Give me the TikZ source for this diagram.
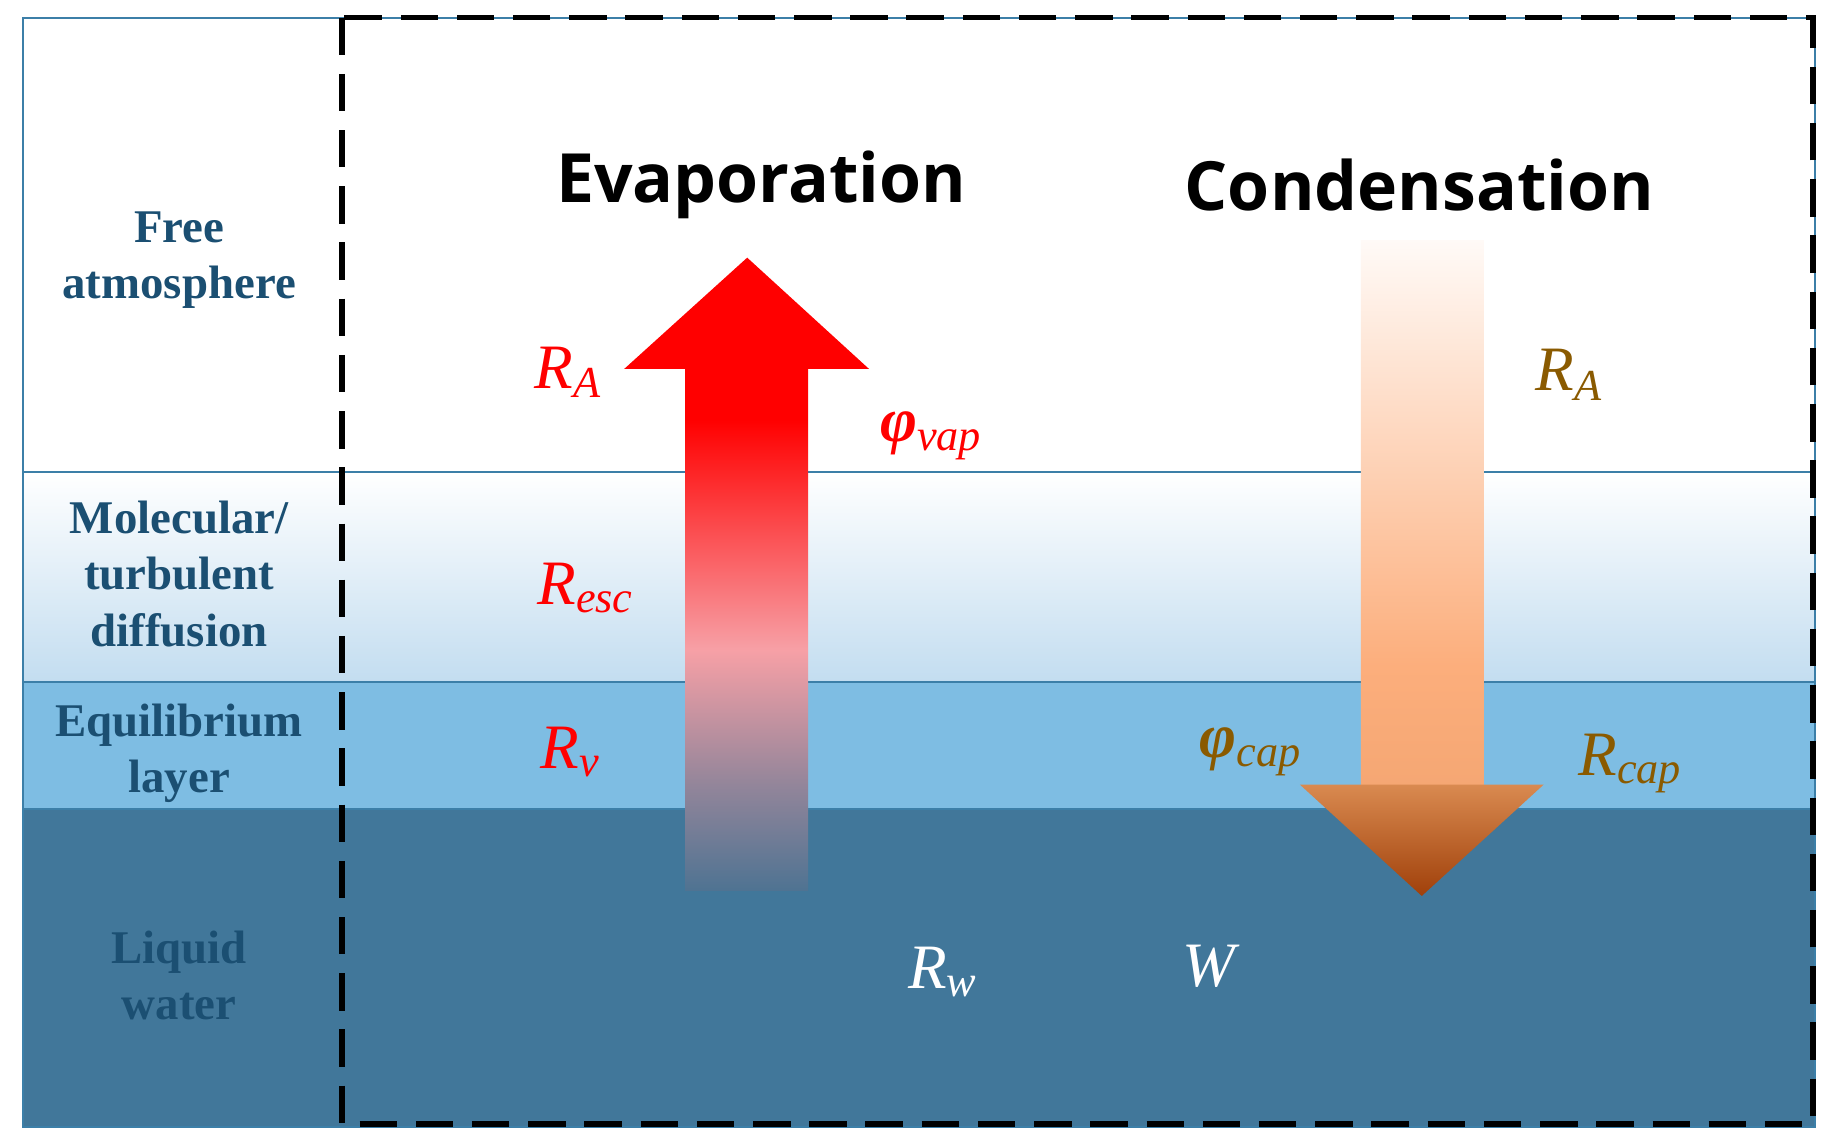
\documentclass[tikz,border=0pt]{standalone}
\usepackage{fontspec}
\setmainfont{Liberation Serif}
\newfontfamily\titlefont{Open Sans}
\definecolor{lblue}{HTML}{1B4F72}
\definecolor{lay2}{HTML}{C3DDF0}
\definecolor{lay3}{HTML}{7EBDE3}
\definecolor{lay4}{HTML}{41779A}
\definecolor{brd}{HTML}{3C7FA8}
\definecolor{brn}{HTML}{8A5A00}
\definecolor{evb}{HTML}{4F7392}
\definecolor{evm}{HTML}{F7A0A6}
\definecolor{cdt}{HTML}{FFFAF7}
\definecolor{cdm}{HTML}{FCAE7C}
\definecolor{cdl}{HTML}{D98A50}
\definecolor{cdb}{HTML}{A0400A}
\pgfdeclareverticalshading{evap}{100bp}{color(0bp)=(evb); color(25bp)=(evb); color(35bp)=(evb!60!evm); color(48bp)=(evm); color(70bp)=(red); color(100bp)=(red)}
\pgfdeclareverticalshading{cond}{100bp}{color(0bp)=(cdm!80!cdl); color(25bp)=(cdm!80!cdl); color(36bp)=(cdm); color(75bp)=(cdt); color(100bp)=(cdt)}
\pgfdeclareverticalshading{condh}{100bp}{color(0bp)=(cdb); color(25bp)=(cdb); color(75bp)=(cdl); color(100bp)=(cdl)}
\begin{document}
\begin{tikzpicture}[x=0.5pt,y=-0.5pt,
  side/.style={font=\fontsize{20}{24}\selectfont\bfseries, align=center, text=lblue},
  ttl/.style={font=\titlefont\bfseries\fontsize{29}{34}\selectfont},
  sym/.style={font=\fontsize{27}{30}\selectfont\itshape}]
\useasboundingbox (0,0) rectangle (1560,975);
\fill[white] (0,0) rectangle (1560,975);
\shade[top color=white,bottom color=lay2] (20,403) rectangle (1550,582);
\fill[lay3] (20,582) rectangle (1550,691);
\fill[lay4] (20,691) rectangle (1550,962);
\draw[brd,line width=0.8pt] (20,15) rectangle (1550,962);
\draw[brd,line width=0.8pt] (20,403) -- (1550,403) (20,582) -- (1550,582) (20,691) -- (1550,691);
% up arrow
\shade[shading=evap] (585,760) rectangle (690,314);
\fill[red] (533,315) -- (638,220) -- (742,315) -- cycle;
% down arrow
\shade[shading=cond] (1162,205) rectangle (1267,671);
\shade[shading=condh] (1110,670) -- (1318,670) -- (1214,765) -- cycle;
\draw[black,line width=2.5pt,dash pattern=on 16pt off 8pt] (292,15) rectangle (1548,960);
\node[side] (l1) at (153,222) {Free\\atmosphere};
\node[side] (l2) at (153,490) {Molecular/\\turbulent\\diffusion};
\node[side] (l3) at (153,643) {Equilibrium\\layer};
\node[side] (l4) at (153,833) {Liquid\\water};
\node[ttl] (ev) at (650,158) {Evaporation};
\node[ttl] (co) at (1212,158) {Condensation};
\node[sym,text=red] (ra) at (485,318) {R\textsubscript{A}};
\node[sym,text=red] (pv) at (795,372) {\textbf{φ}\textsubscript{vap}};
\node[sym,text=red] (re) at (500,502) {R\textsubscript{esc}};
\node[sym,text=red] (rv) at (487,642) {R\textsubscript{v}};
\node[sym,text=white] (rw) at (805,830) {R\textsubscript{w}};
\node[sym,text=white] (w) at (1032,825) {W};
\node[sym,text=brn] (ra2) at (1340,320) {R\textsubscript{A}};
\node[sym,text=brn] (pc) at (1068,642) {\textbf{φ}\textsubscript{cap}};
\node[sym,text=brn] (rc) at (1392,652) {R\textsubscript{cap}};
\end{tikzpicture}
\end{document}
